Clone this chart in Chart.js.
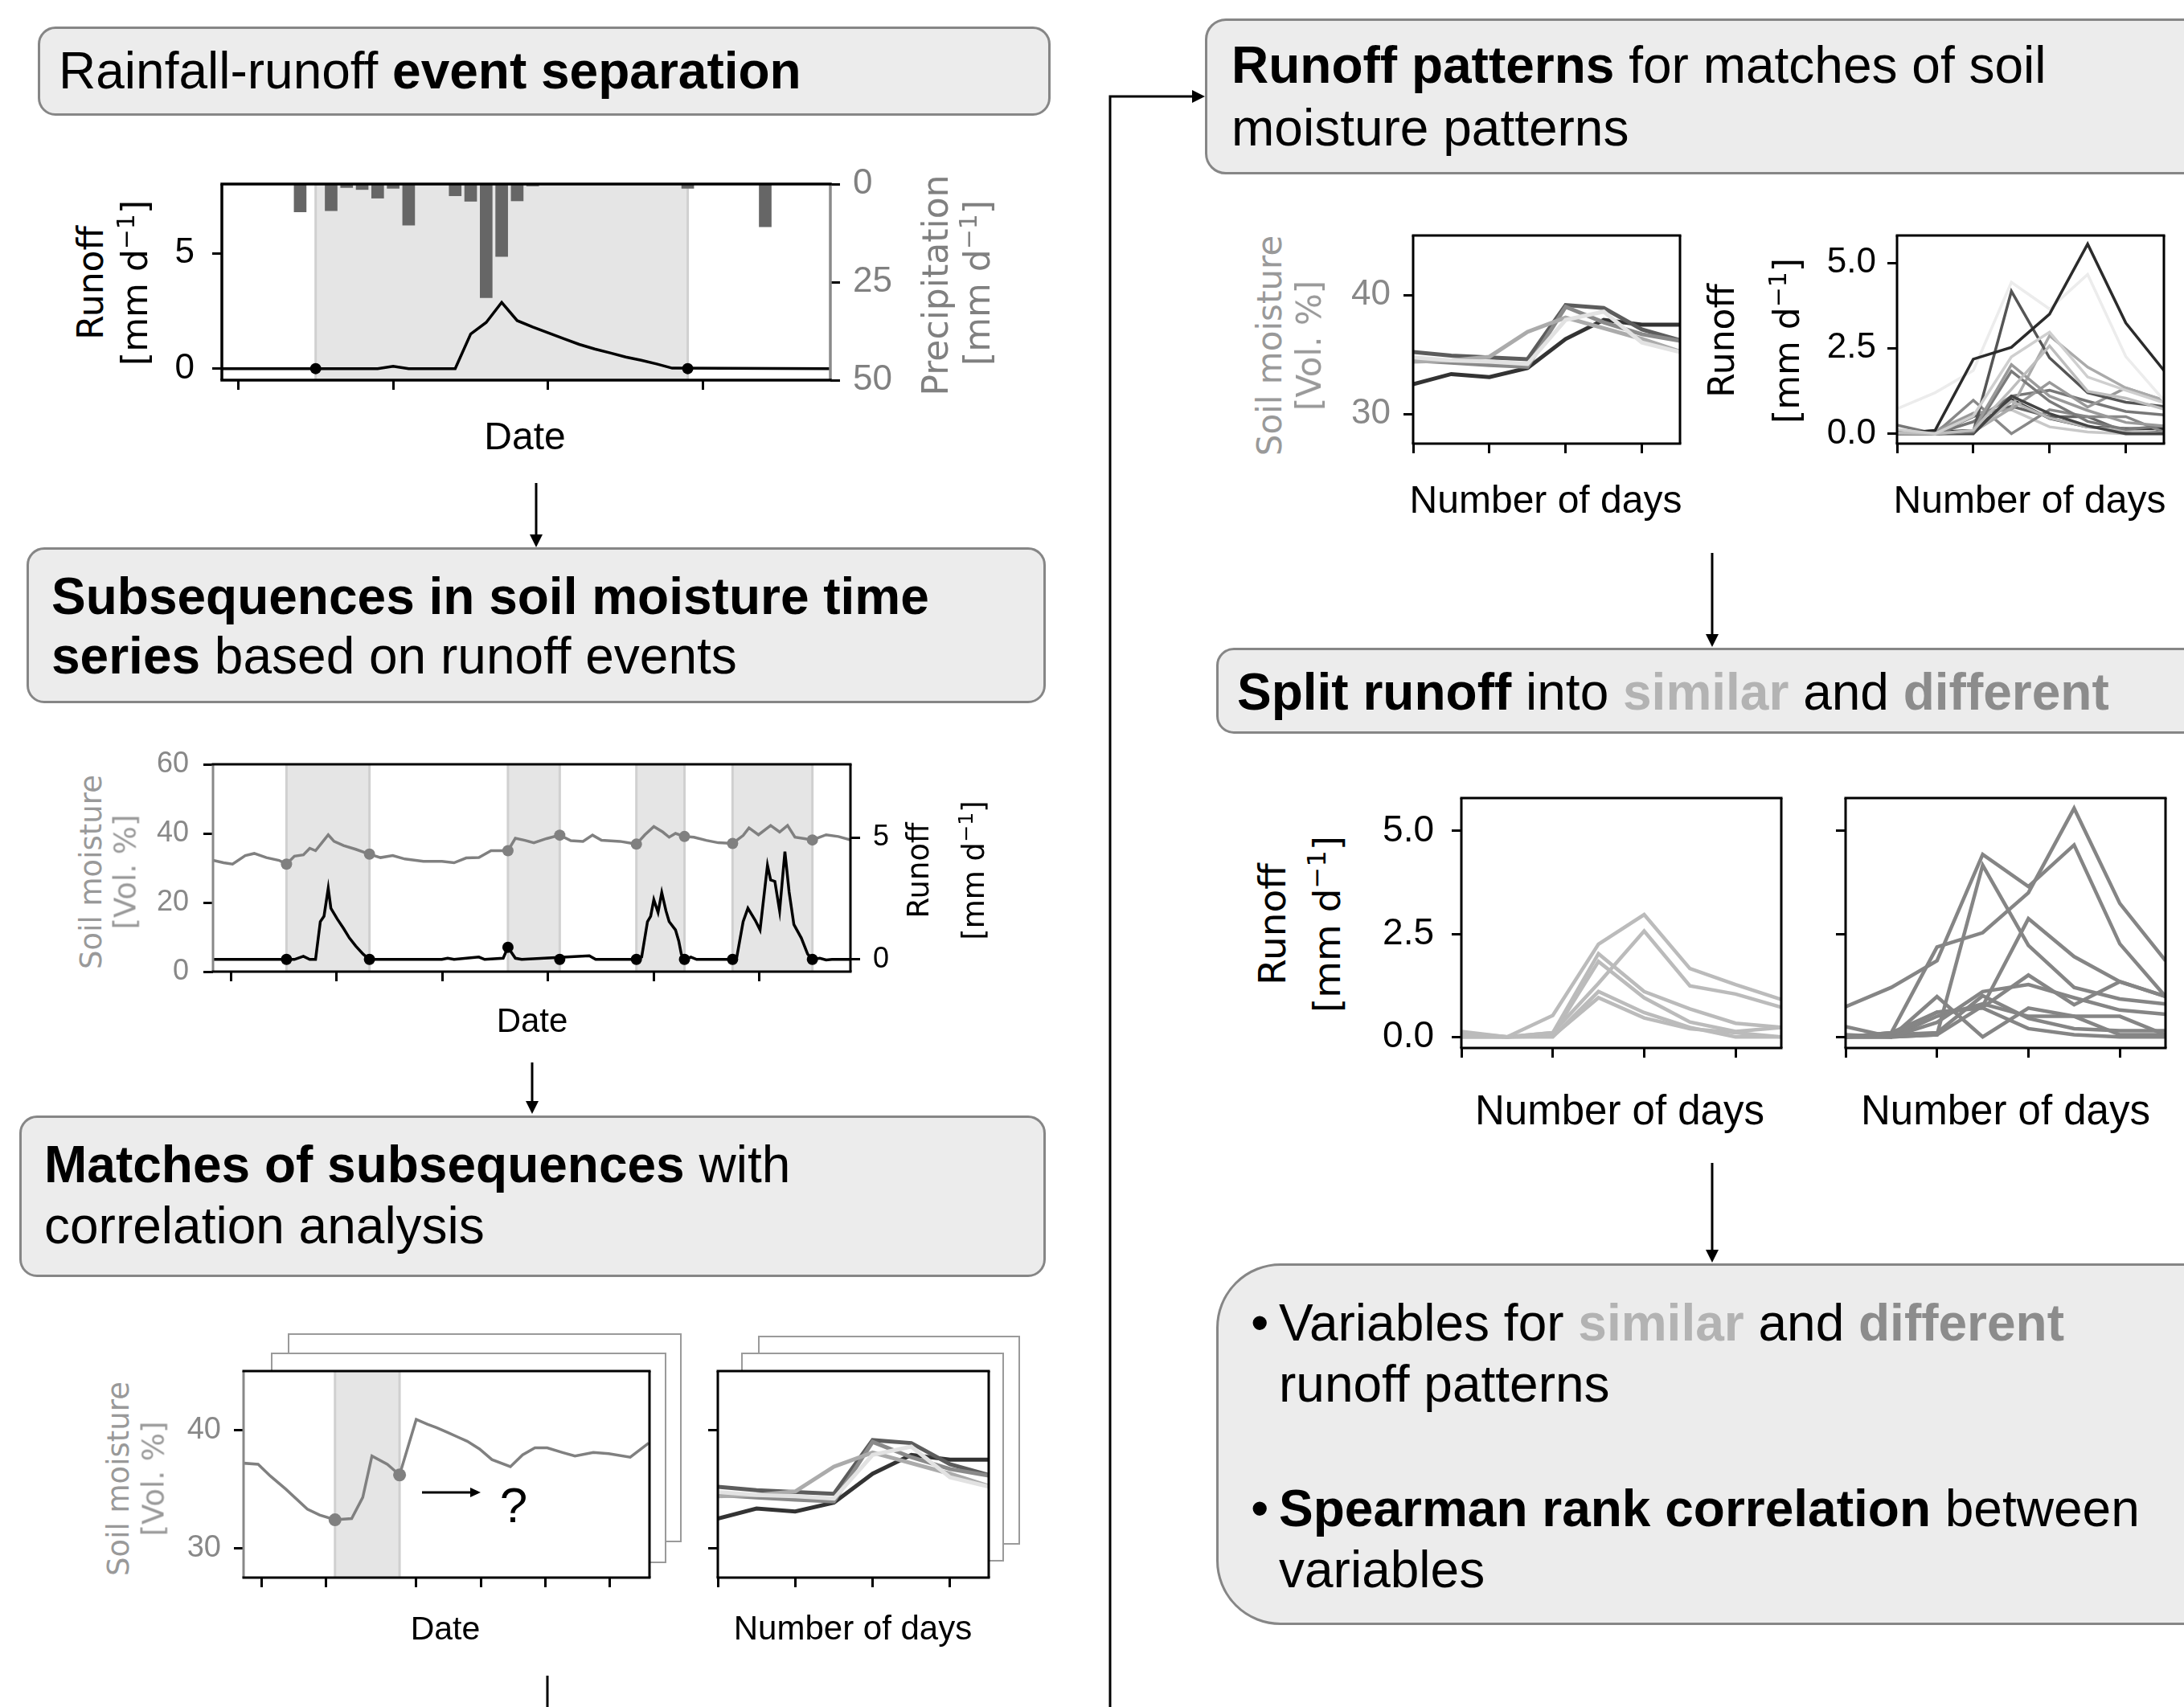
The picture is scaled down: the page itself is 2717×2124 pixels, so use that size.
<!DOCTYPE html>
<html>
<head>
<meta charset="utf-8">
<title>Runoff pattern workflow</title>
<script src="https://cdn.jsdelivr.net/npm/chart.js@4.4.1/dist/chart.umd.min.js"></script>
<style>
  body { margin:0; width:2717px; height:2124px; position:relative; overflow:hidden; background:#fff;
         font-family:"Liberation Sans", Arial, sans-serif; color:#000; }
  .box { position:absolute; background:#ececec; border:3px solid #868686; box-sizing:border-box; border-radius:22px; }
  .tx { position:absolute; font-size:64px; white-space:nowrap; line-height:1; transform:translateY(-50%); }
  .yt { position:absolute; white-space:nowrap; line-height:1; font-family:"DejaVu Sans", sans-serif;
        transform:translate(-50%,-50%) rotate(-90deg); }
  .yt sup { font-size:68%; vertical-align:0.55em; line-height:0; }
  .xt { position:absolute; white-space:nowrap; line-height:1; transform:translate(-50%,-50%); }
  .back { position:absolute; background:#fff; border:2px solid #9a9a9a; box-sizing:border-box; }
  .cw { position:absolute; }
  .lt { color:#b3b3b3; } .md { color:#8c8c8c; } .g { color:#999; } .g2 { color:#808080; }
</style>
</head>
<body>

<!-- boxes -->
<div class="box" style="left:47px;top:33px;width:1260px;height:111px;"></div>
<div class="tx" style="left:73px;top:88px;">Rainfall-runoff <b>event separation</b></div>

<div class="box" style="left:1499px;top:23px;width:1300px;height:194px;border-radius:26px;"></div>
<div class="tx" style="left:1532px;top:81px;"><b>Runoff patterns</b> for matches of soil</div>
<div class="tx" style="left:1532px;top:159px;">moisture patterns</div>

<div class="box" style="left:33px;top:681px;width:1268px;height:194px;"></div>
<div class="tx" style="left:64px;top:742px;"><b>Subsequences in soil moisture time</b></div>
<div class="tx" style="left:64px;top:816px;"><b>series</b> based on runoff events</div>

<div class="box" style="left:24px;top:1388px;width:1277px;height:201px;"></div>
<div class="tx" style="left:55px;top:1449px;"><b>Matches of subsequences</b> with</div>
<div class="tx" style="left:55px;top:1525px;">correlation analysis</div>

<div class="box" style="left:1513px;top:806px;width:1300px;height:107px;"></div>
<div class="tx" style="left:1539px;top:861px;"><b>Split runoff</b> into <b class="lt">similar</b> and <b class="md">different</b></div>

<div class="box" style="left:1513px;top:1572px;width:1300px;height:450px;border-radius:80px;"></div>
<div class="tx" style="left:1556px;top:1646px;">•</div>
<div class="tx" style="left:1591px;top:1646px;">Variables for <b class="lt">similar</b> and <b class="md">different</b></div>
<div class="tx" style="left:1591px;top:1722px;">runoff patterns</div>
<div class="tx" style="left:1556px;top:1877px;">•</div>
<div class="tx" style="left:1591px;top:1877px;"><b>Spearman rank correlation</b> between</div>
<div class="tx" style="left:1591px;top:1953px;">variables</div>

<!-- stacked frames behind the match plots -->
<div class="back" style="left:358px;top:1659px;width:490px;height:260px;"></div>
<div class="back" style="left:337px;top:1683px;width:492px;height:262px;"></div>
<div class="back" style="left:943px;top:1662px;width:326px;height:260px;"></div>
<div class="back" style="left:922px;top:1683px;width:327px;height:260px;"></div>

<div id="charts"></div>

<!-- axis titles -->
<div class="yt" style="left:113px;top:352px;font-size:44px;">Runoff</div>
<div class="yt" style="left:168px;top:352px;font-size:44px;">[mm d<sup>−1</sup>]</div>
<div class="yt g2" style="left:1164px;top:355px;font-size:44px;">Precipitation</div>
<div class="yt g2" style="left:1216px;top:352px;font-size:44px;">[mm d<sup>−1</sup>]</div>
<div class="xt" style="left:653px;top:543px;font-size:48px;">Date</div>

<div class="yt g" style="left:113px;top:1085px;font-size:37px;">Soil moisture</div>
<div class="yt g" style="left:156px;top:1085px;font-size:37px;">[Vol. %]</div>
<div class="yt" style="left:1142px;top:1083px;font-size:37px;">Runoff</div>
<div class="yt" style="left:1211px;top:1083px;font-size:37px;">[mm d<sup>−1</sup>]</div>
<div class="xt" style="left:662px;top:1270px;font-size:42px;">Date</div>

<div class="yt g" style="left:147px;top:1840px;font-size:37px;">Soil moisture</div>
<div class="yt g" style="left:191px;top:1840px;font-size:37px;">[Vol. %]</div>
<div class="xt" style="left:554px;top:2026px;font-size:41px;">Date</div>
<div class="xt" style="left:1061px;top:2026px;font-size:42px;">Number of days</div>

<div class="yt g" style="left:1580px;top:430px;font-size:42px;">Soil moisture</div>
<div class="yt g" style="left:1629px;top:430px;font-size:42px;">[Vol. %]</div>
<div class="xt" style="left:1923px;top:622px;font-size:48px;">Number of days</div>
<div class="yt" style="left:2142px;top:424px;font-size:44px;">Runoff</div>
<div class="yt" style="left:2223px;top:424px;font-size:44px;">[mm d<sup>−1</sup>]</div>
<div class="xt" style="left:2525px;top:622px;font-size:48px;">Number of days</div>

<div class="yt" style="left:1582px;top:1150px;font-size:47px;">Runoff</div>
<div class="yt" style="left:1650px;top:1150px;font-size:47px;">[mm d<sup>−1</sup>]</div>
<div class="xt" style="left:2015px;top:1381px;font-size:51px;">Number of days</div>
<div class="xt" style="left:2495px;top:1381px;font-size:51px;">Number of days</div>

<!-- arrows -->
<svg width="2717" height="2124" style="position:absolute;left:0;top:0;z-index:5;pointer-events:none;">
  <g stroke="#000" stroke-width="3" fill="none">
    <line x1="667" y1="601" x2="667" y2="668"/>
    <line x1="662" y1="1322" x2="662" y2="1373"/>
    <line x1="681" y1="2085" x2="681" y2="2124"/>
    <polyline points="1381,2124 1381,120 1486,120"/>
    <line x1="2130" y1="688" x2="2130" y2="792"/>
    <line x1="2130" y1="1447" x2="2130" y2="1558"/>
    <line x1="525" y1="1857" x2="587" y2="1857"/>
  </g>
  <g fill="#000">
    <polygon points="659,665 675,665 667,681"/>
    <polygon points="654,1370 670,1370 662,1386"/>
    <polygon points="1483,112 1483,128 1499,120"/>
    <polygon points="2122,789 2138,789 2130,805"/>
    <polygon points="2122,1555 2138,1555 2130,1571"/>
    <polygon points="585,1851 585,1863 598,1857"/>
  </g>
</svg>
<div class="xt" style="left:639px;top:1873px;font-size:62px;z-index:6;">?</div>

<script>
// event separation plot
const evDays = [-1.05, 9, 10, 11, 14, 15, 16, 17, 18, 19, 20, 21, 22, 23, 24, 25, 26, 27, 28, 38.2];
const evRunoff = [0, 0, 0.1, 0, 0, 1.5, 2.0, 2.87, 2.08, 1.8, 1.55, 1.3, 1.05, 0.85, 0.68, 0.5, 0.36, 0.2, 0.02, 0];
const rainDays = [4, 6, 7, 8, 9, 10, 11, 14, 15, 16, 17, 18, 19, 29, 34];
const rainMm = [7.1, 6.8, 0.9, 1.4, 3.6, 1.1, 10.5, 3.0, 4.4, 29, 18.5, 4.3, 0.5, 1.1, 10.9];
const evBounds = [5, 29];
const evTicks = [0, 10, 20, 30];

// soil moisture series with runoff events
const smDays = [-3.4, -1.4, 0.3, 2.7, 4.4, 6.7, 9.1, 10.5, 12, 13.7, 14.9, 16, 17.2, 18.4, 19.5, 21.3, 23.6, 26.2,
  28.3, 30.6, 32.9, 36.4, 39.9, 42.2, 44.5, 46.9, 49.2, 52.4, 53.8, 55.6, 57.3, 59.7, 62.2, 64.3, 66.6, 68.4, 70.1,
  73.6, 76.7, 78.3, 80, 81.7, 82.9, 84.1, 85.8, 87.6, 89.9, 92.2, 94.9, 96.9, 98, 99.8, 102.1, 103.8, 105.3, 106.7,
  108.5, 110, 112.6, 114.9, 117.2];
const smVals = [32.2, 31.5, 31.1, 33.6, 34.2, 33, 32.2, 31.1, 33.4, 33.8, 35.7, 35, 37.3, 39.6, 37.7, 36.5, 35.4, 34,
  33, 33.6, 32.6, 31.9, 31.9, 31.5, 32.9, 33, 35, 35, 38.6, 38, 37.3, 38.5, 39.5, 37.9, 37.7, 39.5, 38,
  37.7, 36.9, 39.6, 42, 40.4, 38.9, 40, 39.1, 38.9, 38, 37.3, 37.1, 39.4, 41.6, 39.6, 42.3, 40.4, 42.3, 38.9,
  38.5, 38.1, 39.6, 39.1, 38.1];
const qDays = [-3.4, 10.5, 12, 13.7, 14.9, 16, 16.9, 17.6, 18.4, 18.9, 20.1, 21.3, 22.4, 23.6, 25, 26.2, 39.9, 41,
  42.2, 46.9, 48, 51.5, 52.4, 53.8, 55, 67.8, 69, 76.7, 77.7, 78.8, 79.4, 80, 80.8, 81.5, 82.3, 82.9, 84.1, 84.7,
  85.2, 85.8, 87, 88.1, 94.9, 95.7, 96.9, 97.8, 99.2, 100.1, 101.5, 102.1, 102.9, 103.8, 104.8, 105.6, 106.5,
  107.9, 109.1, 110, 111.4, 112.6, 113.7, 117.2];
const qVals = [0, 0, 0, 0.13, 0, 0, 1.55, 1.77, 2.92, 2.1, 1.66, 1.27, 0.88, 0.55, 0.22, 0, 0, 0.05,
  0, 0.1, 0, 0.05, 0.5, 0.05, 0, 0.15, 0, 0, 0.1, 1.55, 1.77, 2.45, 1.93, 2.74, 1.99, 1.55, 1.21, 0.77,
  0.22, 0, 0.1, 0, 0, 0.1, 1.55, 2.1, 1.6, 1.21, 3.86, 3.26, 3.2, 1.99, 4.42, 2.76, 1.43,
  0.88, 0.22, 0, 0.05, -0.02, 0, 0];
const evStarts = [10.5, 52.4, 76.7, 94.9];
const evEnds = [26.2, 62.2, 85.8, 110];
const markDays = [10.5, 26.2, 52.4, 62.2, 76.7, 85.8, 94.9, 110];
const markSm = [31.1, 34, 35, 39.5, 36.9, 39.1, 37.1, 38.1];
const markQ = [0, 0, 0.5, 0, 0, 0, 0, 0];
const seriesTicks = [0, 20, 40, 60, 80, 100];

// one subsequence match
const matchDays = [-1.43, -0.24, 0.71, 1.9, 3.57, 4.52, 5.71, 7, 7.86, 8.57, 9.76, 10.71, 12, 12.86, 13.57, 14.43,
  15.24, 15.95, 16.9, 17.86, 19.29, 20.24, 21.19, 22.14, 23.33, 24.29, 25.71, 26.9, 28.57, 30];
const matchSm = [37.2, 37.1, 36.1, 35, 33.3, 32.8, 32.4, 32.5, 34.3, 37.8, 37.1, 36.2, 40.9, 40.5, 40.2, 39.8,
  39.4, 39.05, 38.4, 37.5, 36.9, 37.9, 38.5, 38.5, 38.1, 37.8, 38.1, 38, 37.7, 38.9];
const matchSpan = [5.71, 10.71];
const matchTicks = [0, 5, 12, 17, 22, 27];

// matched windows (number of days)
const nDays = [0, 1, 2, 3, 4, 5, 6, 7];
const dayTicks = [0, 2, 4, 6];
const smPatterns = [
  [34.75, 34.5, 34.4, 34.2, 37.9, 38.6, 36.0, 35.2],
  [34.4, 34.5, 34.8, 36.9, 38.1, 37.2, 36.3, 35.25],
  [34.5, 34.3, 34.1, 33.95, 39.0, 37.7, 36.7, 36.15],
  [35.2, 34.9, 34.75, 34.6, 39.15, 38.9, 37.1, 36.2],
  [32.5, 33.35, 33.1, 33.85, 36.3, 37.9, 37.5, 37.5]
];
const similarRunoff = [
  [0.13, 0, 0.52, 2.25, 2.97, 1.66, 1.27, 0.91],
  [0.03, 0, 0.1, 1.3, 2.57, 1.24, 1.04, 0.72],
  [0, 0, 0.1, 2.02, 1.1, 0.68, 0.33, 0.23],
  [0.1, 0, 0.05, 1.83, 0.95, 0.36, 0.13, 0.23],
  [0, 0, 0, 1.1, 0.59, 0.23, 0, 0],
  [0.05, 0, 0.02, 0.95, 0.46, 0.2, 0.1, 0]
];
const differentRunoff = [
  [0, 0.1, 2.18, 2.53, 3.5, 5.55, 3.24, 1.85],
  [0.73, 1.2, 1.85, 4.43, 3.65, 4.66, 2.26, 0.98],
  [0.05, 0, 0.05, 4.17, 2.22, 1.2, 0.92, 0.8],
  [0, 0, 0.05, 0.75, 2.87, 1.95, 1.34, 0.98],
  [0, 0.05, 0.6, 0.72, 1.5, 0.78, 1.34, 0.98],
  [0.25, 0, 0.35, 1.1, 1.27, 0.95, 0.65, 0.55],
  [0, 0, 0.98, 0, 0.7, 0.5, 0.5, 0.05],
  [0, 0.05, 0.1, 1.0, 0.45, 0.2, 0.15, 0.15],
  [0, 0.1, 0.6, 0.7, 0.2, 0.05, 0, 0],
  [0, 0, 0.5, 0.8, 0.5, 0.5, 0.05, 0.05]
];
const runoffTicks = [0, 2.5, 5];

const smShades = ['#e2e2e2', '#ababab', '#8a8a8a', '#5c5c5c', '#333333'];
const simShades = ['#cfcfcf', '#bdbdbd', '#9a9a9a', '#7a7a7a', '#444444', '#b5b5b5'];
const difShades = ['#2b2b2b', '#ececec', '#555555', '#aaaaaa', '#999999', '#777777', '#888888', '#333333', '#c8c8c8', '#666666'];

Chart.defaults.font.family = 'Liberation Sans';

// room above and below each plot area; the x axis box takes the whole bottom part
const PAD_T = 64, PAD_B = 64;

const framePlugin = {
  id: 'frame',
  beforeDraw(chart) {
    const { ctx, chartArea: a } = chart;
    ctx.save();
    ctx.fillStyle = '#fff';
    ctx.fillRect(a.left, a.top, a.width, a.height);
    ctx.restore();
  },
  beforeDatasetsDraw(chart, args, o) {
    const { ctx, chartArea: a } = chart;
    const x = chart.scales.x;
    ctx.save();
    (o.spans || []).forEach(([s, e]) => {
      const x1 = x.getPixelForValue(s), x2 = x.getPixelForValue(e);
      ctx.fillStyle = '#e5e5e5';
      ctx.fillRect(x1, a.top, x2 - x1, a.height);
      ctx.strokeStyle = '#d0d0d0';
      ctx.lineWidth = 3;
      [x1, x2].forEach(px => {
        ctx.beginPath(); ctx.moveTo(px, a.top); ctx.lineTo(px, a.bottom); ctx.stroke();
      });
    });
    ctx.restore();
  },
  afterDatasetsDraw(chart, args, o) {
    const { ctx, chartArea: a } = chart;
    const lw = o.width || 3, h = lw / 2;
    const c = Object.assign({ top: '#000', bottom: '#000', left: '#000', right: '#000' }, o.colors || {});
    ctx.save();
    ctx.lineWidth = lw;
    const seg = (col, x1, y1, x2, y2) => {
      ctx.strokeStyle = col; ctx.beginPath(); ctx.moveTo(x1, y1); ctx.lineTo(x2, y2); ctx.stroke();
    };
    seg(c.left, a.left, a.top, a.left, a.bottom);
    seg(c.right, a.right, a.top, a.right, a.bottom);
    seg(c.top, a.left - h, a.top, a.right + h, a.top);
    seg(c.bottom, a.left - h, a.bottom, a.right + h, a.bottom);
    ctx.restore();
  }
};
Chart.register(framePlugin);

const pts = (xs, ys) => xs.map((x, i) => ({ x, y: ys[i] }));

function xAxis(min, max, ticks) {
  return {
    type: 'linear', position: 'bottom', min, max, offset: false,
    afterFit: s => { s.height = PAD_B; },
    afterBuildTicks: s => { s.ticks = ticks.map(v => ({ value: v })); },
    grid: { offset: false, drawOnChartArea: false, tickLength: 12, tickWidth: 3, tickColor: '#000' },
    border: { display: false },
    ticks: { callback: () => '' }
  };
}

function yAxis(pos, min, max, ticks, o) {
  return {
    type: 'linear', position: pos, min, max, reverse: !!o.reverse,
    afterFit: s => { s.width = o.w; },
    afterBuildTicks: s => { s.ticks = ticks.map(v => ({ value: v })); },
    grid: { drawOnChartArea: false, tickLength: 12, tickWidth: 3, tickColor: '#000' },
    border: { display: false },
    ticks: {
      color: o.color || '#000', padding: o.pad == null ? 16 : o.pad,
      font: { family: 'Liberation Sans', size: o.size || 44 },
      callback: o.fmt || (v => String(v))
    }
  };
}

const line = (xs, ys, color, width, yAxisID) =>
  ({ data: pts(xs, ys), borderColor: color, borderWidth: width, pointRadius: 0, tension: 0, fill: false, yAxisID: yAxisID || 'y' });
const dots = (xs, ys, color, r, yAxisID) =>
  ({ data: pts(xs, ys), showLine: false, pointRadius: r, pointBackgroundColor: color, pointBorderWidth: 0, yAxisID: yAxisID || 'y', order: -1 });

function addChart(p, datasets, scales, frame) {
  const hasRight = Object.values(scales).some(s => s.position === 'right');
  const wrap = document.createElement('div');
  wrap.className = 'cw';
  wrap.style.left = (p.x - p.L) + 'px';
  wrap.style.top = (p.y - PAD_T) + 'px';
  const cv = document.createElement('canvas');
  cv.width = p.w + p.L + p.R;
  cv.height = p.h + PAD_T + PAD_B;
  cv.style.width = cv.width + 'px';
  cv.style.height = cv.height + 'px';
  wrap.appendChild(cv);
  document.getElementById('charts').appendChild(wrap);
  return new Chart(cv, {
    type: 'line',
    data: { datasets },
    options: {
      responsive: false, animation: false, events: [],
      layout: { padding: { top: PAD_T, left: 0, bottom: 0, right: hasRight ? 0 : p.R } },
      plugins: { legend: { display: false }, tooltip: { enabled: false }, frame },
      scales
    }
  });
}

const fmt1 = v => v.toFixed(1);
const blank = () => '';

// 1. rainfall-runoff event separation
addChart({ x: 276, y: 229, w: 757, h: 244, L: 110, R: 110 }, [
  dots(evBounds, [0, 0], '#000', 7),
  line(evDays, evRunoff, '#000', 3.5),
  { type: 'bar', data: pts(rainDays, rainMm), backgroundColor: '#666', barThickness: 15, yAxisID: 'yP', order: 5 }
], {
  x: xAxis(-1.05, 38.2, evTicks),
  y: yAxis('left', -0.5, 8, [0, 5], { w: 110, size: 44, pad: 22 }),
  yP: yAxis('right', 0, 50, [0, 25, 50], { w: 110, size: 44, color: '#808080', reverse: true, pad: 16 })
}, { spans: [evBounds], width: 3.5, colors: { right: '#8a8a8a' } });

// 2. soil moisture series
addChart({ x: 265, y: 951, w: 793, h: 258, L: 100, R: 90 }, [
  dots(markDays, markSm, '#808080', 7),
  dots(markDays, markQ, '#000', 7, 'yR'),
  line(smDays, smVals, '#808080', 3.5),
  line(qDays, qVals, '#000', 3.5, 'yR')
], {
  x: xAxis(-3.4, 117.2, seriesTicks),
  y: yAxis('left', 0, 60, [0, 20, 40, 60], { w: 100, size: 36, color: '#888', pad: 18 }),
  yR: yAxis('right', -0.5, 8, [0, 5], { w: 90, size: 36, pad: 16 })
}, { spans: evStarts.map((s, i) => [s, evEnds[i]]), colors: { left: '#888' } });

// 3. one match
addChart({ x: 303, y: 1706, w: 505, h: 257, L: 100, R: 30 }, [
  dots(matchSpan, [32.4, 36.2], '#808080', 8),
  line(matchDays, matchSm, '#808080', 3.5)
], {
  x: xAxis(-1.37, 30.06, matchTicks),
  y: yAxis('left', 27.5, 45, [30, 40], { w: 100, size: 38, color: '#888', pad: 16 })
}, { spans: [matchSpan], colors: { left: '#888' } });

// 4. matched windows
addChart({ x: 893, y: 1706, w: 337, h: 257, L: 30, R: 30 },
  smPatterns.map((v, i) => line(nDays, v, smShades[i], 5)), {
  x: xAxis(0, 7, dayTicks),
  y: yAxis('left', 27.5, 45, [30, 40], { w: 30, fmt: blank })
}, {});

// 5. soil moisture patterns of matches
addChart({ x: 1758, y: 293, w: 332, h: 259, L: 110, R: 30 },
  smPatterns.map((v, i) => line(nDays, v, smShades[i], 5)), {
  x: xAxis(0, 7, dayTicks),
  y: yAxis('left', 27.5, 45, [30, 40], { w: 110, size: 44, color: '#888', pad: 16 })
}, {});

// 6. runoff patterns of matches
addChart({ x: 2360, y: 293, w: 332, h: 259, L: 110, R: 20 },
  similarRunoff.map((v, i) => line(nDays, v, simShades[i], 3.5))
    .concat(differentRunoff.map((v, i) => line(nDays, v, difShades[i], 3.5))), {
  x: xAxis(0, 7, dayTicks),
  y: yAxis('left', -0.29, 5.8, runoffTicks, { w: 110, size: 44, fmt: fmt1, pad: 14 })
}, {});

// 7. similar runoff
addChart({ x: 1818, y: 993, w: 398, h: 311, L: 130, R: 30 },
  similarRunoff.map(v => line(nDays, v, '#bbbbbb', 4.5)), {
  x: xAxis(0, 7, dayTicks),
  y: yAxis('left', -0.27, 5.8, runoffTicks, { w: 130, size: 46, fmt: fmt1, pad: 22 })
}, {});

// 8. different runoff
addChart({ x: 2296, y: 993, w: 398, h: 311, L: 30, R: 20 },
  differentRunoff.map(v => line(nDays, v, '#858585', 4.5)), {
  x: xAxis(0, 7, dayTicks),
  y: yAxis('left', -0.27, 5.8, runoffTicks, { w: 30, fmt: blank })
}, {});
</script>
</body>
</html>
